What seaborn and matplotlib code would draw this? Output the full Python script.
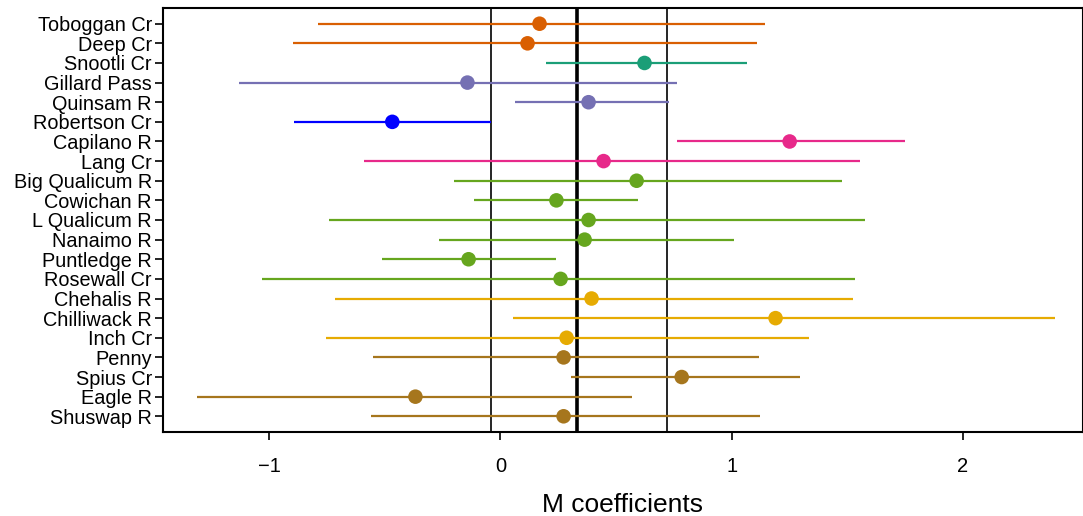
import numpy as np
import pandas as pd
import matplotlib
matplotlib.use("Agg")
import matplotlib.pyplot as plt
import seaborn as sns

sites = ["Toboggan Cr", "Deep Cr", "Snootli Cr", "Gillard Pass", "Quinsam R",
         "Robertson Cr", "Capilano R", "Lang Cr", "Big Qualicum R", "Cowichan R",
         "L Qualicum R", "Nanaimo R", "Puntledge R", "Rosewall Cr", "Chehalis R",
         "Chilliwack R", "Inch Cr", "Penny", "Spius Cr", "Eagle R", "Shuswap R"]
groups = ["Skeena", "Skeena", "Central", "Johnstone", "Johnstone",
          "Robertson", "Mainland", "Mainland", "Georgia", "Georgia",
          "Georgia", "Georgia", "Georgia", "Georgia", "Lower Fraser",
          "Lower Fraser", "Lower Fraser", "Thompson", "Thompson", "Thompson", "Thompson"]
est = [0.169, 0.117, 0.623, -0.143, 0.381, -0.468, 1.251, 0.446, 0.589, 0.242,
       0.381, 0.364, -0.138, 0.260, 0.394, 1.190, 0.286, 0.273, 0.784, -0.368, 0.273]
lower = [-0.788, -0.896, 0.199, -1.130, 0.061, -0.892, 0.762, -0.589, -0.199, -0.113,
         -0.740, -0.268, -0.511, -1.030, -0.714, 0.056, -0.753, -0.550, 0.303, -1.312, -0.558]
upper = [1.143, 1.108, 1.065, 0.762, 0.727, -0.039, 1.749, 1.554, 1.476, 0.597,
         1.576, 1.009, 0.242, 1.532, 1.524, 2.398, 1.333, 1.117, 1.294, 0.567, 1.121]
ref_lines = [-0.043, 0.329, 0.719]
ref_widths = [1.2, 2.6, 1.2]

palette = {"Skeena": "#D95F02", "Central": "#1B9E77", "Johnstone": "#7570B3",
           "Robertson": "#0000FF", "Mainland": "#E7298A", "Georgia": "#66A61E",
           "Lower Fraser": "#E6AB02", "Thompson": "#A6761D"}

df = pd.DataFrame({"site": sites, "group": groups, "est": est,
                   "lower": lower, "upper": upper})
df["pos"] = np.arange(len(df))[::-1] + 1

sns.set_style("ticks")
plt.rcParams["font.family"] = ["Liberation Sans", "DejaVu Sans"]

fig = plt.figure(figsize=(10.83, 5.16), dpi=100)
ax = fig.add_axes([0.1505, 0.1628, 0.8495, 0.8217])

# reference lines
for x, w in zip(ref_lines, ref_widths):
    ax.axvline(x, color="black", lw=w, zorder=1)

# intervals
for _, r in df.iterrows():
    ax.hlines(r["pos"], r["lower"], r["upper"], color=palette[r["group"]], lw=1.6, zorder=2)

sns.scatterplot(data=df, x="est", y="pos", hue="group", palette=palette,
                s=110, edgecolor="none", legend=False, ax=ax, zorder=3)

ax.set_xlim(-1.46, 2.52)
ax.set_ylim(0.2, 21.8)
ax.set_yticks(df["pos"])
ax.set_yticklabels(df["site"])
ax.set_xticks([-1, 0, 1, 2])
ax.set_xticklabels(["\u22121", "0", "1", "2"])
ax.set_xlabel("M coefficients", fontsize=19, labelpad=12, color="black")
ax.set_ylabel("")
ax.tick_params(axis="y", labelsize=14.3, length=6, width=1.2, pad=2,
               colors="black")
ax.tick_params(axis="x", labelsize=14.5, length=6, width=1.2, pad=12,
               colors="black")
for sp in ax.spines.values():
    sp.set_linewidth(1.5)
    sp.set_color("black")

fig.savefig("out.png", dpi=100)
